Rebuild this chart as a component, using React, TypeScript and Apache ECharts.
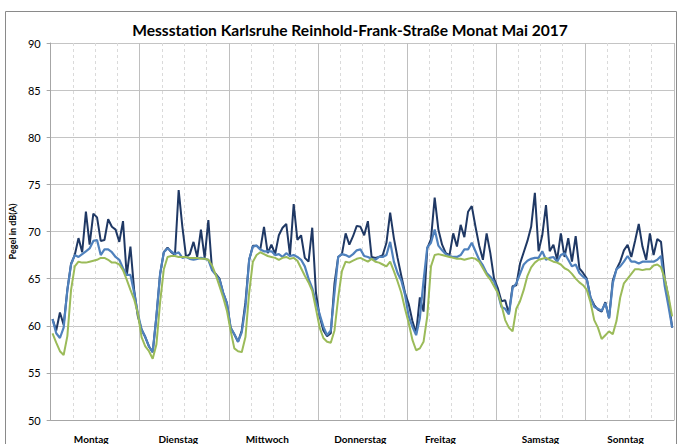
import React, { useEffect, useRef } from "react";
import * as echarts from "echarts";

const chartTitle = "Messstation Karlsruhe Reinhold-Frank-Straße Monat Mai 2017";
const yAxisName = "Pegel in dB(A)";
const days = ["Montag", "Dienstag", "Mittwoch", "Donnerstag", "Freitag", "Samstag", "Sonntag"];
const hoursPerDay = 24;
const yMin = 50;
const yMax = 90;
const yStep = 5;

// hourly values, one row per weekday (Mo..So)
const levelDark = [
  60.7, 59.5, 61.4, 60.1, 63.8, 66.6, 67.5, 69.3, 67.8, 72.1, 68.6, 71.9, 71.5, 69.0, 69.1, 71.3, 70.5, 70.2, 68.9, 71.1, 65.3, 68.4, 63.8, 61.0,
  59.6, 58.8, 57.8, 57.2, 61.0, 65.5, 67.8, 68.3, 67.8, 67.5, 74.4, 70.5, 67.3, 67.6, 68.9, 67.3, 70.2, 67.2, 71.2, 65.9, 65.5, 65.0, 63.5, 62.4,
  59.8, 59.1, 58.3, 59.5, 62.5, 67.0, 68.5, 68.5, 68.1, 70.5, 67.7, 68.6, 67.6, 69.6, 70.4, 70.8, 67.5, 72.9, 69.1, 69.6, 67.2, 66.8, 70.4, 63.5,
  61.0, 59.5, 58.9, 59.2, 64.5, 67.3, 67.6, 69.8, 68.6, 69.5, 70.6, 70.5, 69.6, 71.1, 67.3, 67.2, 67.3, 67.5, 68.8, 72.0, 69.3, 67.2, 65.3, 63.5,
  62.3, 60.5, 59.2, 63.0, 61.5, 68.2, 69.2, 73.6, 70.2, 68.6, 67.7, 67.5, 69.8, 68.4, 70.7, 69.4, 72.1, 72.7, 70.5, 68.5, 67.0, 69.8, 67.7, 65.0,
  64.0, 62.6, 62.7, 61.3, 64.2, 64.3, 66.6, 67.8, 69.0, 70.5, 74.1, 67.9, 69.6, 72.8, 67.9, 68.6, 67.0, 69.8, 67.3, 69.3, 66.8, 69.5, 66.1, 65.6,
  65.0, 63.0, 62.2, 61.7, 61.5, 62.5, 60.8, 64.8, 66.0, 66.8, 68.0, 68.6, 67.3, 69.0, 70.8, 68.4, 67.0, 69.8, 67.5, 69.2, 68.9, 65.0, 63.0, 59.8,
];

const levelBlue = [
  60.7, 59.2, 58.7, 59.8, 63.8, 66.5, 67.5, 67.3, 67.6, 67.9, 68.2, 69.0, 69.1, 67.5, 68.1, 68.1, 67.8, 67.3, 67.0, 66.1, 65.4, 65.4, 63.5, 61.3,
  59.6, 58.8, 57.8, 57.2, 61.0, 65.5, 67.8, 68.2, 67.9, 67.6, 67.8, 67.2, 67.3, 67.1, 67.0, 67.1, 67.2, 67.1, 67.0, 65.9, 65.4, 64.9, 63.5, 62.4,
  59.8, 59.1, 58.3, 59.3, 62.0, 67.0, 68.4, 68.5, 68.1, 67.9, 67.9, 67.9, 67.5, 67.6, 67.3, 67.7, 67.4, 67.5, 67.3, 67.0, 66.3, 65.0, 64.0, 62.5,
  61.2, 59.9, 59.0, 59.5, 63.5, 67.3, 67.6, 67.5, 67.3, 67.6, 68.0, 68.1, 67.4, 67.3, 67.1, 67.0, 67.3, 67.3, 67.5, 68.9, 66.8, 65.6, 64.8, 63.3,
  61.0, 59.9, 59.0, 60.8, 64.8, 68.3, 68.8, 70.2, 68.5, 68.0, 67.6, 67.4, 67.3, 67.3, 67.5, 68.1, 68.1, 68.8, 67.9, 67.0, 66.4, 65.6, 65.2, 64.7,
  63.5, 62.0, 61.8, 61.2, 64.0, 64.5, 65.5, 66.5, 66.9, 67.1, 67.2, 67.2, 67.9, 67.0, 67.2, 67.3, 66.8, 67.5, 67.7, 67.0, 66.3, 66.5, 65.6, 65.2,
  64.9, 63.0, 62.0, 61.8, 61.6, 62.4, 60.8, 64.5, 66.0, 66.3, 66.8, 67.4, 66.8, 66.8, 66.6, 66.8, 66.8, 66.8, 66.8, 67.0, 67.4, 64.2, 62.1, 59.8,
];

const levelGreen = [
  59.2, 58.2, 57.3, 56.9, 58.9, 63.8, 66.3, 66.8, 66.7, 66.7, 66.8, 66.9, 67.0, 67.2, 67.2, 67.0, 66.7, 66.7, 66.5, 65.9, 64.9, 63.8, 62.8, 61.3,
  58.8, 57.8, 57.3, 56.5, 58.0, 62.5, 66.0, 67.3, 67.4, 67.4, 67.3, 67.3, 67.3, 67.2, 67.2, 67.2, 67.1, 67.1, 67.0, 66.4, 65.4, 64.2, 63.0, 61.6,
  59.5, 57.6, 57.3, 57.2, 58.8, 63.5, 66.8, 67.5, 67.8, 67.6, 67.4, 67.3, 67.2, 67.0, 67.2, 67.3, 67.1, 67.2, 66.9, 66.1, 65.3, 64.6, 63.7, 61.8,
  59.8, 58.7, 58.3, 58.2, 59.5, 63.0, 65.8, 66.8, 66.7, 66.9, 67.1, 67.2, 67.0, 66.8, 67.1, 66.8, 66.7, 66.5, 66.3, 66.8, 65.8, 64.7, 63.5, 61.8,
  60.3, 58.5, 57.4, 57.6, 58.3, 61.0, 66.3, 67.5, 67.6, 67.5, 67.4, 67.3, 67.2, 67.1, 67.1, 67.0, 67.1, 67.2, 67.1, 66.8, 66.1, 65.4, 64.9, 64.2,
  63.5, 62.2, 60.6, 59.8, 59.4, 61.8, 62.6, 63.8, 65.3, 66.2, 66.7, 67.0, 67.1, 67.2, 67.0, 66.8, 66.7, 66.5, 66.1, 65.9, 65.5, 65.0, 64.6, 64.3,
  63.8, 62.5, 60.6, 59.8, 58.6, 59.0, 59.4, 59.1, 60.5, 63.0, 64.5, 65.0, 65.5, 66.0, 66.0, 65.9, 66.0, 66.0, 66.4, 66.5, 66.2, 65.0, 63.2, 61.0,
];

const seriesColors = ["#1F3864", "#4F81BD", "#9BBB59"];
const labelShift = [4, 6, 6, 2, 11, 0, 4];

const hourCats: string[] = [];
days.forEach((d) => {
  for (let h = 0; h < hoursPerDay; h++) hourCats.push(d + " " + h);
});

export default function App() {
  const ref = useRef<HTMLDivElement>(null);
  useEffect(() => {
    if (!ref.current) return;
    const chart = echarts.init(ref.current, null, { renderer: "svg" });
    const rich: Record<string, any> = {};
    days.forEach((_, i) => {
      rich["d" + i] = {
        fontFamily: "Lato",
        fontSize: 10,
        fontWeight: "bold",
        color: "#000",
        padding: [0, labelShift[i] * 2, 0, 0],
      };
    });
    chart.setOption({
      animation: false,
      backgroundColor: "#fff",
      title: {
        text: chartTitle,
        left: 345,
        top: 17,
        textAlign: "center",
        textStyle: { fontFamily: "Lato", fontSize: 15.6, fontWeight: "bold", color: "#000" },
      },
      graphic: [
        {
          type: "rect",
          shape: { x: 5.5, y: 11.5, width: 671, height: 500 },
          style: { fill: "none", stroke: "#8a8a8a", lineWidth: 1 },
          silent: true,
          z: 0,
        },
      ],
      grid: { left: 43, right: 4, top: 43, bottom: 24, containLabel: false },
      xAxis: [
        {
          type: "category",
          data: hourCats,
          boundaryGap: true,
          axisLine: { show: true, lineStyle: { color: "#a6a6a6", width: 1 } },
          axisTick: { show: false },
          axisLabel: { show: false },
          splitLine: {
            show: true,
            interval: (i: number) => i % 6 === 0 && i % 24 !== 0,
            lineStyle: { color: "#dadada", type: [3, 3], width: 1 },
          },
        },
        {
          type: "category",
          data: days,
          boundaryGap: true,
          position: "bottom",
          axisLine: { show: false },
          axisTick: { show: false },
          axisLabel: {
            show: true,
            interval: 0,
            hideOverlap: false,
            margin: 14,
            formatter: (v: string, i: number) => "{d" + i + "|" + v + "}",
            rich,
          },
          splitLine: { show: true, interval: 0, lineStyle: { color: "#bfbfbf", width: 1 } },
        },
      ],
      yAxis: {
        type: "value",
        min: yMin,
        max: yMax,
        interval: yStep,
        name: yAxisName,
        nameLocation: "middle",
        nameGap: 24,
        nameTextStyle: { fontFamily: "Lato", fontSize: 9, fontWeight: "bold", color: "#000" },
        axisLine: { show: true, lineStyle: { color: "#a6a6a6" } },
        axisTick: { show: true, length: 4, lineStyle: { color: "#a6a6a6" } },
        axisLabel: { fontFamily: "Lato", fontSize: 11, color: "#000", margin: 10 },
        splitLine: { show: true, lineStyle: { color: "#c4c4c4", width: 1 } },
      },
      series: [
        { name: "dark", data: levelDark, color: seriesColors[0], lineWidth: 2 },
        { name: "blue", data: levelBlue, color: seriesColors[1], lineWidth: 2.2 },
        { name: "green", data: levelGreen, color: seriesColors[2], lineWidth: 2 },
      ].map((s) => ({
        type: "line",
        name: s.name,
        data: s.data,
        xAxisIndex: 0,
        symbol: "none",
        lineStyle: { color: s.color, width: s.lineWidth },
        itemStyle: { color: s.color },
      })),
    });
    return () => chart.dispose();
  }, []);
  return (
    <div
      ref={ref}
      style={{ position: "fixed", left: 0, top: 0, width: 678, height: 444, background: "#fff" }}
    />
  );
}
